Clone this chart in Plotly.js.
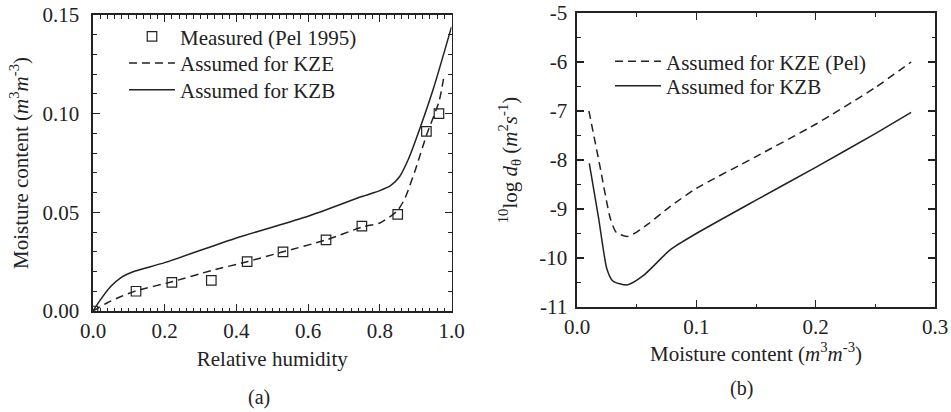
<!DOCTYPE html>
<html>
<head>
<meta charset="utf-8">
<script src="https://cdn.plot.ly/plotly-3.0.1.min.js"></script>
<style>html,body{margin:0;padding:0;background:#fff;}</style>
</head>
<body>
<div id="chart" style="width:951px;height:412px;"></div>
<script>
// ---- Panel (a): sorption isotherm ----
const rhMeasured = [0, 0.12, 0.22, 0.33, 0.43, 0.53, 0.65, 0.75, 0.85, 0.93, 0.965];
const mcMeasured = [0, 0.010, 0.0145, 0.0155, 0.025, 0.030, 0.036, 0.043, 0.049, 0.091, 0.100];

const rhKZE = [0, 0.04, 0.08, 0.12, 0.22, 0.33, 0.43, 0.53, 0.65, 0.75, 0.80, 0.83, 0.85, 0.87, 0.90, 0.93, 0.965, 0.98];
const mcKZE = [0, 0.0042, 0.0075, 0.0102, 0.0148, 0.0205, 0.025, 0.030, 0.036, 0.0425, 0.0446, 0.048, 0.051, 0.057, 0.072, 0.089, 0.106, 0.120];

const rhKZB = [0, 0.02, 0.05, 0.08, 0.11, 0.20, 0.40, 0.60, 0.75, 0.80, 0.83, 0.855, 0.88, 0.90, 0.95, 1.0];
const mcKZB = [0, 0.0055, 0.0125, 0.0172, 0.0198, 0.0245, 0.037, 0.048, 0.058, 0.061, 0.0635, 0.068, 0.077, 0.0865, 0.113, 0.144];

// ---- Panel (b): moisture diffusivity ----
const thetaKZE = [0.010, 0.019, 0.028, 0.033, 0.042, 0.050, 0.060, 0.078, 0.100, 0.150, 0.200, 0.250, 0.280];
const logDKZE  = [-7.0, -8.1, -9.2, -9.48, -9.56, -9.47, -9.3, -8.95, -8.58, -7.93, -7.27, -6.52, -6.0];

const thetaKZB = [0.0103, 0.018, 0.025, 0.030, 0.042, 0.056, 0.075, 0.080, 0.100, 0.150, 0.200, 0.250, 0.280];
const logDKZB  = [-8.07, -9.17, -10.22, -10.47, -10.55, -10.35, -9.9, -9.8, -9.5, -8.82, -8.15, -7.46, -7.03];

// tick labels
const xTicksA = [0, 0.2, 0.4, 0.6, 0.8, 1.0];
const xLabelsA = ['0.0', '0.2', '0.4', '0.6', '0.8', '1.0'];
const yTicksA = [0, 0.05, 0.10, 0.15];
const yLabelsA = ['0.00', '0.05', '0.10', '0.15'];
const xTicksB = [0, 0.1, 0.2, 0.3];
const xLabelsB = ['0.0', '0.1', '0.2', '0.3'];
const yTicksB = [-11, -10, -9, -8, -7, -6, -5];
const yLabelsB = ['-11', '-10', '-9', '-8', '-7', '-6', '-5'];

const legendNames = ["Measured (Pel 1995)", "Assumed for KZE", "Assumed for KZB", "Assumed for KZE (Pel)", "Assumed for KZB"];
const panelLabels = ["(a)", "(b)"];

const ink = '#222';
const FONT = 'Liberation Serif, Times New Roman, serif';

const traces = [
  {x: rhMeasured, y: mcMeasured, mode: 'markers', name: legendNames[0], xaxis: 'x', yaxis: 'y', legend: 'legend',
   marker: {symbol: 'square-open', size: 9.5, color: ink, line: {width: 1.2, color: ink}}},
  {x: rhKZE, y: mcKZE, mode: 'lines', name: legendNames[1], xaxis: 'x', yaxis: 'y', legend: 'legend2',
   line: {color: ink, width: 1.5, dash: '8px,5px', shape: 'spline', smoothing: 0.6}},
  {x: rhKZB, y: mcKZB, mode: 'lines', name: legendNames[2], xaxis: 'x', yaxis: 'y', legend: 'legend3',
   line: {color: ink, width: 1.5, shape: 'spline', smoothing: 0.6}},
  {x: thetaKZE, y: logDKZE, mode: 'lines', name: legendNames[3], xaxis: 'x2', yaxis: 'y2', legend: 'legend4',
   line: {color: ink, width: 1.5, dash: '8px,5px', shape: 'spline', smoothing: 0.6}},
  {x: thetaKZB, y: logDKZB, mode: 'lines', name: legendNames[4], xaxis: 'x2', yaxis: 'y2', legend: 'legend5',
   line: {color: ink, width: 1.5, shape: 'spline', smoothing: 0.6}}
];

function axisBase() {
  return {
    showgrid: false, zeroline: false, showline: true, linecolor: ink, linewidth: 1.6,
    mirror: 'allticks', ticks: 'inside', ticklen: 7, tickwidth: 1.2, tickcolor: ink,
    tickmode: 'array',
    tickfont: {family: FONT, size: 21, color: ink}
  };
}

const W = 951, H = 412;
const px = v => v / W, py = v => 1 - v / H;

const ITEMW = 46;
function legendAt(textStartPx, ypx) {
  return {x: px(textStartPx - ITEMW - 10), y: py(ypx), xanchor: 'left', yanchor: 'middle', bgcolor: 'rgba(0,0,0,0)',
          borderwidth: 0, font: {family: FONT, size: 21, color: ink}, itemwidth: ITEMW, tracegroupgap: 0};
}

const titleFont = {family: FONT, size: 21, color: ink};

const layout = {
  width: W, height: H,
  margin: {l: 0, r: 0, t: 0, b: 0},
  paper_bgcolor: '#fff', plot_bgcolor: '#fff',
  font: {family: FONT, size: 21, color: ink},
  showlegend: true,
  xaxis: Object.assign(axisBase(), {
    domain: [px(93), px(451.5)], anchor: 'y', range: [0, 1], tickvals: xTicksA, ticktext: xLabelsA,
    minor: {ticks: 'inside', dtick: 0.02, tick0: 0, ticklen: 3.5, tickwidth: 1, tickcolor: ink},
    title: {text: 'Relative humidity', font: titleFont, standoff: 9}
  }),
  yaxis: Object.assign(axisBase(), {
    domain: [1 - 311 / H, 1 - 15 / H], anchor: 'x', range: [0, 0.15], tickvals: yTicksA, ticktext: yLabelsA,
    ticklabelstandoff: 8,
    minor: {ticks: 'inside', dtick: 0.01, tick0: 0, ticklen: 3.5, tickwidth: 1, tickcolor: ink},
    title: {text: 'Moisture content (<i>m</i><sup>3</sup><i>m</i><sup>-3</sup>)', font: titleFont, standoff: 8}
  }),
  xaxis2: Object.assign(axisBase(), {
    domain: [px(577), px(935)], anchor: 'y2', range: [0, 0.3], tickvals: xTicksB, ticktext: xLabelsB,
    minor: {ticks: 'inside', dtick: 0.05, tick0: 0, ticklen: 3.5, tickwidth: 1, tickcolor: ink},
    title: {text: 'Moisture content (<i>m</i><sup>3</sup><i>m</i><sup>-3</sup>)', font: titleFont, standoff: 6}
  }),
  yaxis2: Object.assign(axisBase(), {
    domain: [1 - 307 / H, 1 - 13 / H], anchor: 'x2', range: [-11, -5], tickvals: yTicksB, ticktext: yLabelsB,
    ticklabelstandoff: 4,
    minor: {ticks: 'inside', dtick: 0.5, tick0: -11, ticklen: 3.5, tickwidth: 1, tickcolor: ink},
    title: {text: '<sup>10</sup>log <i>d</i><sub>θ</sub> (<i>m</i><sup>2</sup><i>s</i><sup>-1</sup>)', font: titleFont, standoff: 16}
  }),
  legend: legendAt(180, 36.7),
  legend2: legendAt(180, 63.3),
  legend3: legendAt(180, 90),
  legend4: legendAt(666, 61.7),
  legend5: legendAt(666, 86),
  annotations: [
    {text: panelLabels[0], xref: 'paper', yref: 'paper', x: px(259), y: py(397), xanchor: 'center', yanchor: 'middle',
     showarrow: false, font: {family: FONT, size: 20, color: ink}},
    {text: panelLabels[1], xref: 'paper', yref: 'paper', x: px(741), y: py(388), xanchor: 'center', yanchor: 'middle',
     showarrow: false, font: {family: FONT, size: 20, color: ink}}
  ]
};

Plotly.newPlot('chart', traces, layout, {displayModeBar: false, staticPlot: true});
</script>
</body>
</html>
